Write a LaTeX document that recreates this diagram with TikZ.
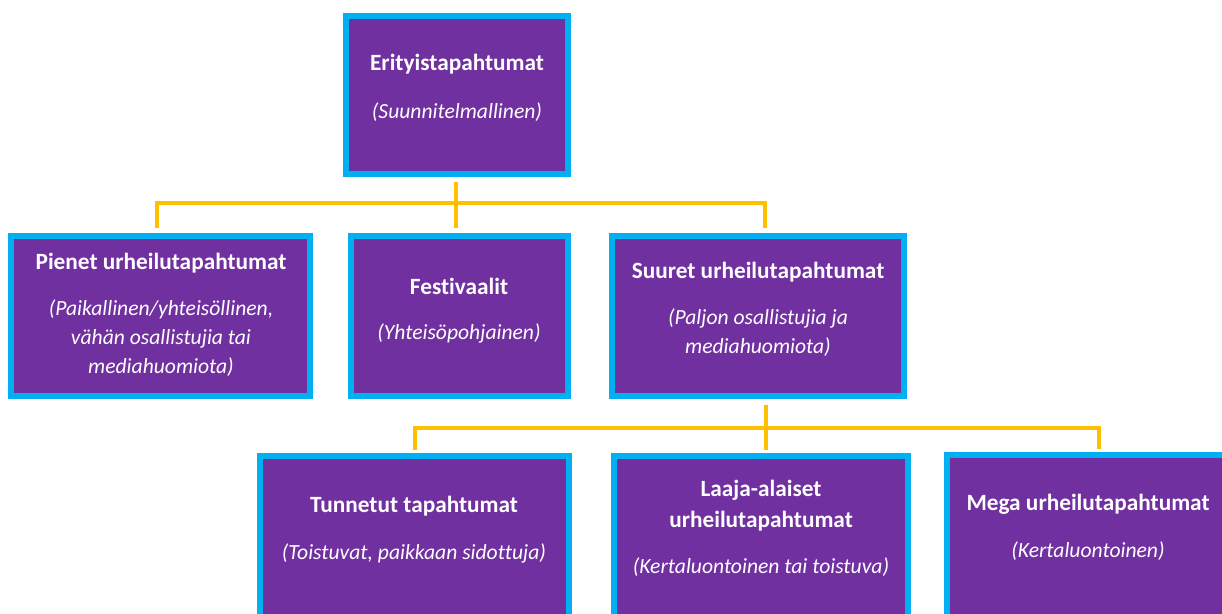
\documentclass[tikz,border=0pt]{standalone}
\usepackage{fontspec}
\setmainfont{Carlito}[Ligatures=NoCommon]
\definecolor{boxpurple}{HTML}{7030A0}
\definecolor{boxcyan}{HTML}{00B0F0}
\definecolor{conngold}{HTML}{FFC000}
\begin{document}
\begin{tikzpicture}[x=1pt,y=-1pt,
  evbox/.style={draw=boxcyan,fill=boxpurple,line width=6pt,rectangle,inner sep=0pt},
  ttl/.style={text=white,font=\fontsize{23.3}{31}\selectfont\bfseries,align=center,inner sep=0pt},
  sub/.style={text=white,font=\fontsize{21.6}{29}\selectfont\itshape,align=center,inner sep=0pt},
  conn/.style={draw=conngold,line width=4pt}]
\clip (0,0) rectangle (1222,613);
\fill[white] (0,0) rectangle (1222,613);
% boxes (outer size minus line width)
\node[evbox,minimum width=222pt,minimum height=158pt] (top) at (457,95) {};
\node[evbox,minimum width=299pt,minimum height=160pt] (pien) at (160.5,316) {};
\node[evbox,minimum width=217pt,minimum height=160pt] (fest) at (459.5,316) {};
\node[evbox,minimum width=292pt,minimum height=160pt] (suur) at (758,316) {};
\node[evbox,minimum width=309pt,minimum height=200pt] (tunn) at (414.5,556) {};
\node[evbox,minimum width=294pt,minimum height=200pt] (laaja) at (761,556) {};
\node[evbox,minimum width=282pt,minimum height=200pt] (mega) at (1088,555) {};
% texts
\node[ttl] (topT) at (457,64) {Erityistapahtumat};
\node[sub] (topS) at (457,112) {(Suunnitelmallinen)};
\node[ttl] (pienT) at (161,263) {Pienet urheilutapahtumat};
\node[sub] (pienS) at (161,338) {(Paikallinen/yhteisöllinen,\\ vähän osallistujia tai\\ mediahuomiota)};
\node[ttl] (festT) at (459,286) {Festivaalit};
\node[sub] (festS) at (459,333) {(Yhteisöpohjainen)};
\node[ttl] (suurT) at (758,272) {Suuret urheilutapahtumat};
\node[sub] (suurS) at (758,333) {(Paljon osallistujia ja\\ mediahuomiota)};
\node[ttl] (tunnT) at (414,506) {Tunnetut tapahtumat};
\node[sub] (tunnS) at (414,553) {(Toistuvat, paikkaan sidottuja)};
\node[ttl] (laajaT) at (761,505.5) {Laaja-alaiset\\ urheilutapahtumat};
\node[sub] (laajaS) at (761,567) {(Kertaluontoinen tai toistuva)};
\node[ttl] (megaT) at (1088,504) {Mega urheilutapahtumat};
\node[sub] (megaS) at (1088,551) {(Kertaluontoinen)};
% connectors
\coordinate (b1) at (456,203);
\draw[conn] ([yshift=-5pt]top.south -| b1) -- ([yshift=5pt]fest.north -| b1);
\draw[conn] ([xshift=-3.5pt,yshift=5pt]pien.north) |- (b1) -| ([xshift=7pt,yshift=5pt]suur.north);
\coordinate (b2) at (766,428);
\draw[conn] ([yshift=-6pt]suur.south -| b2) -- ([yshift=3pt]laaja.north -| b2);
\draw[conn] ([yshift=3pt]tunn.north) |- (b2) -| ([xshift=11pt,yshift=3pt]mega.north);
\end{tikzpicture}
\end{document}
